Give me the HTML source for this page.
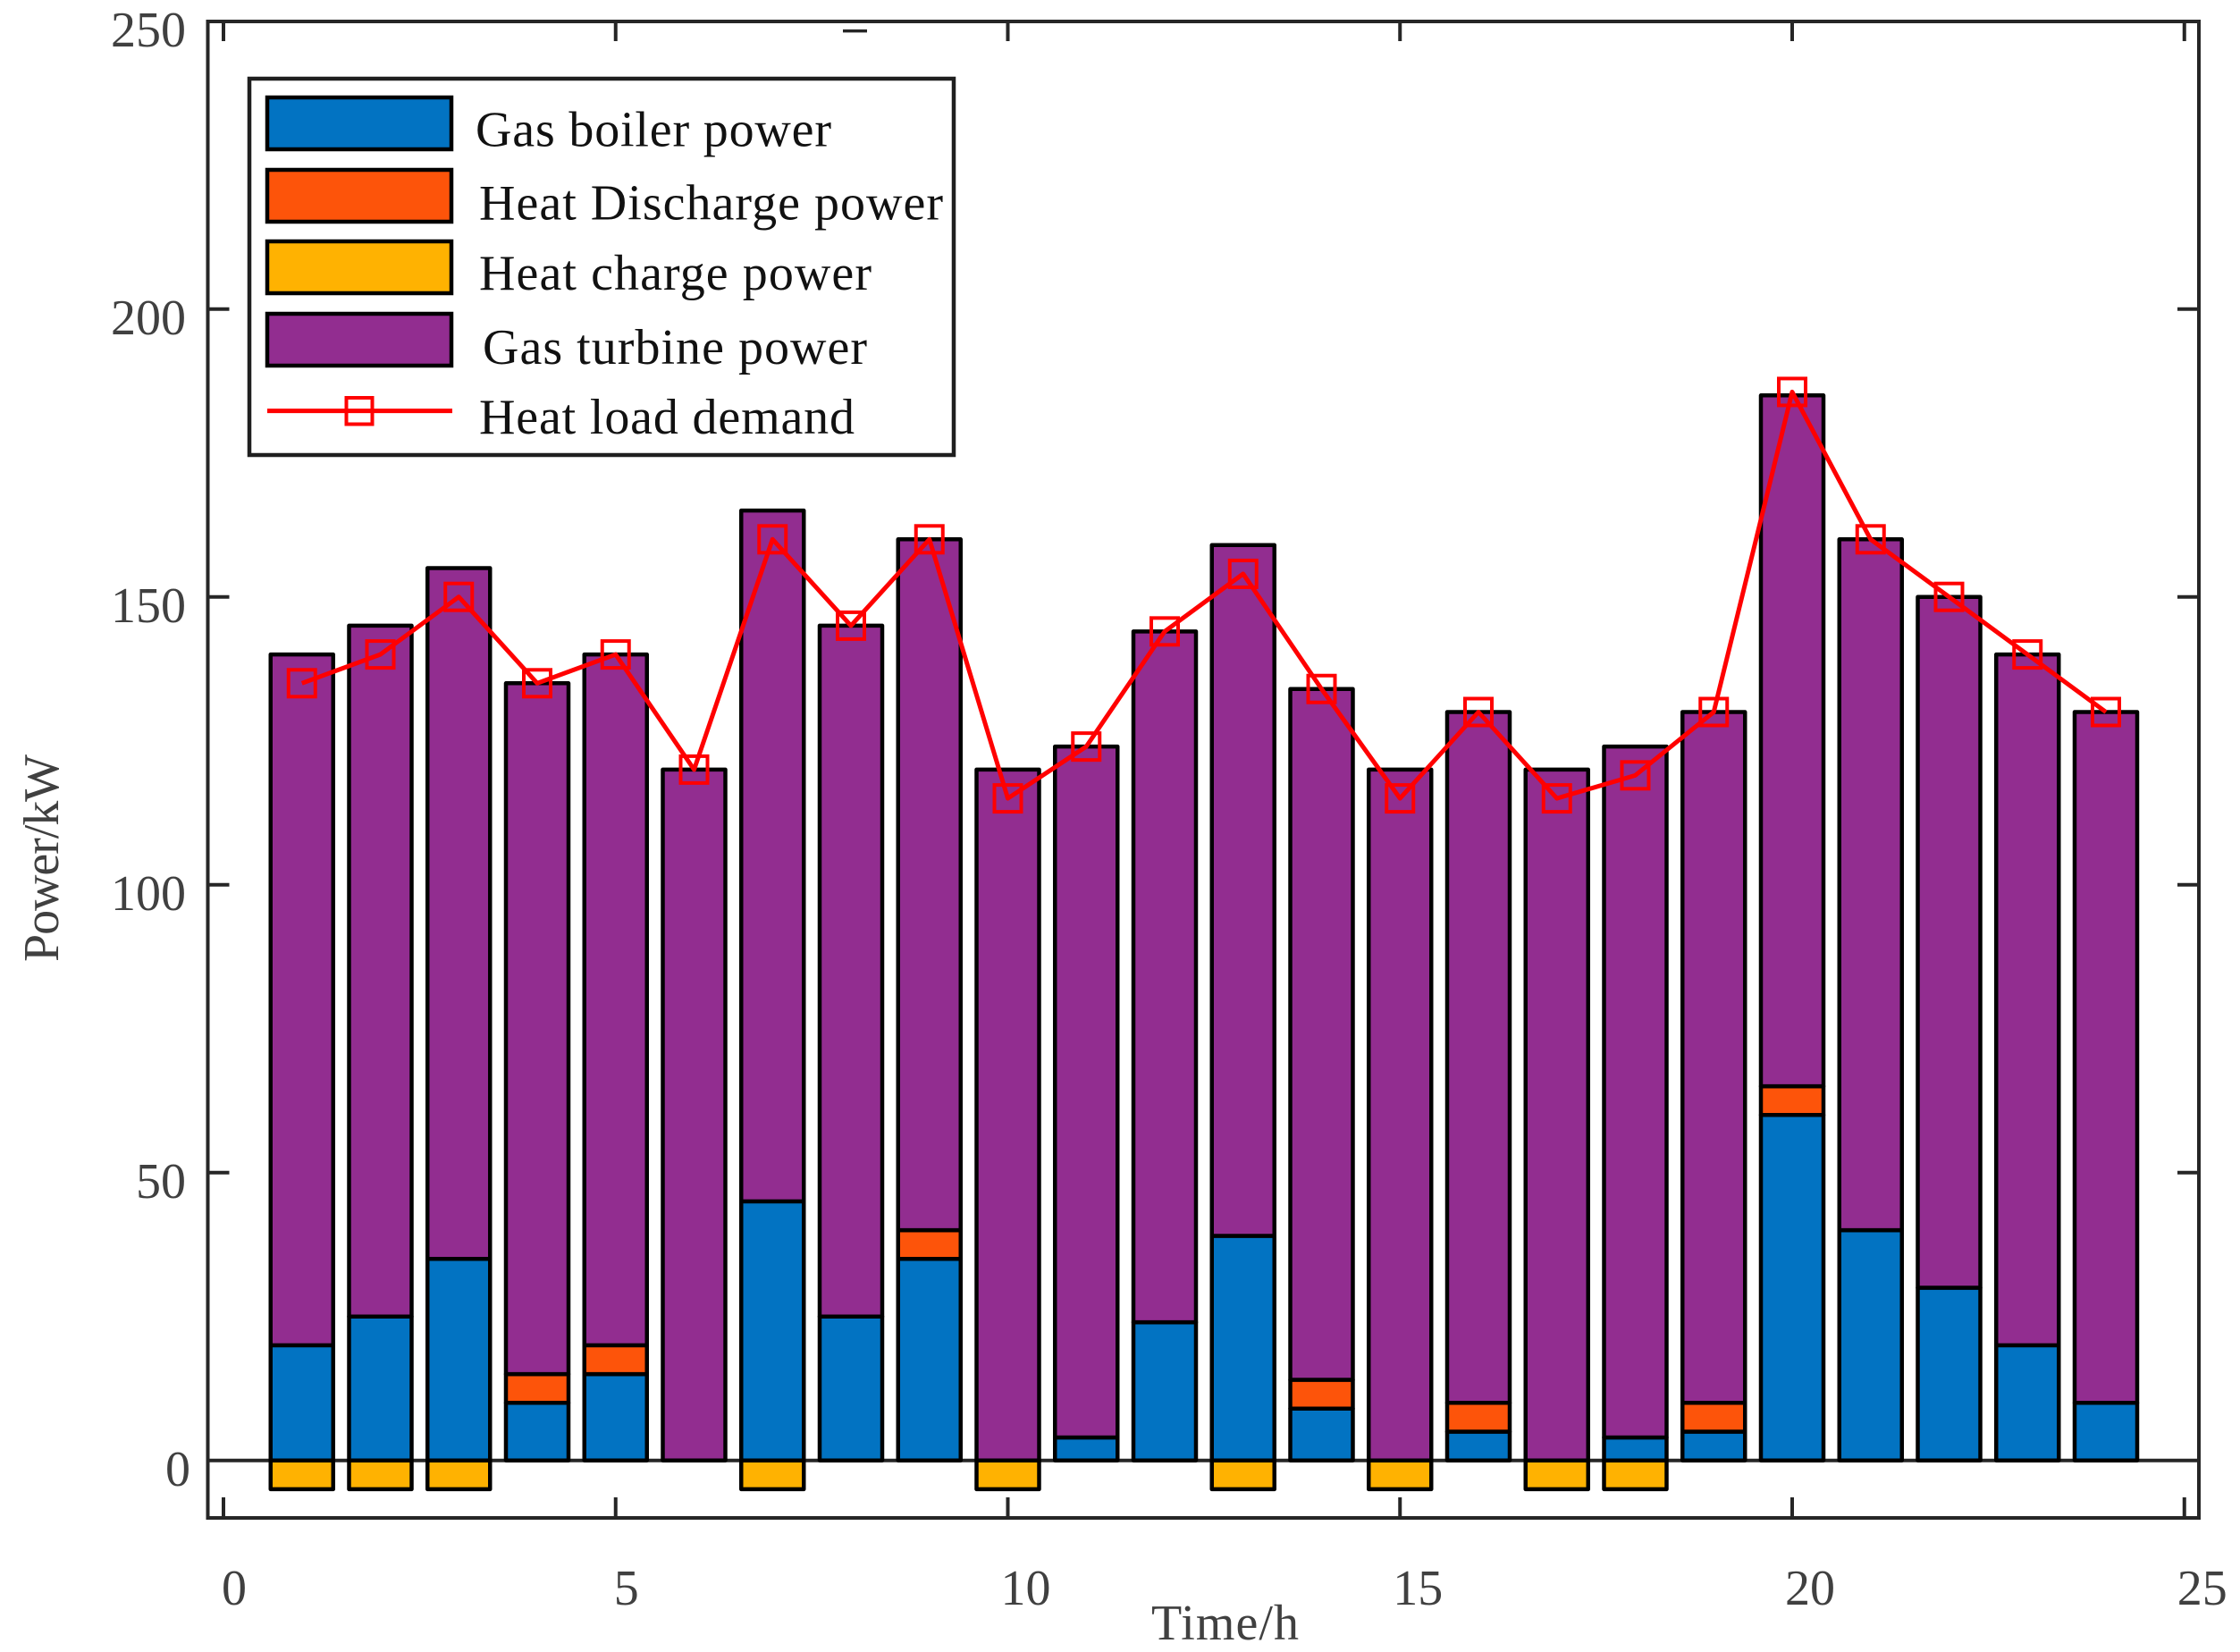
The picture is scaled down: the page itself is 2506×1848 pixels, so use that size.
<!DOCTYPE html>
<html lang="en">
<head>
<meta charset="utf-8">
<title>Heat power balance chart</title>
<style>
  html, body { margin: 0; padding: 0; background: #fff; }
  svg { display: block; }
  text { font-family: "Liberation Serif", serif; font-size: 56px; }
</style>
</head>
<body>
<svg id="chart" xmlns="http://www.w3.org/2000/svg" width="2506" height="1848" viewBox="0 0 2506 1848">
  <rect x="0" y="0" width="2506" height="1848" fill="#ffffff"/>
  <g id="axes-back"></g>
  <g id="bars"></g>
  <g id="line"></g>
  <g id="legend">
    <rect x="279" y="88" width="788" height="421" fill="#ffffff" stroke="#1f1f1f" stroke-width="4.5"/>
    <rect x="299" y="109" width="206" height="58" fill="#0273c2" stroke="#000" stroke-width="4.5"/>
    <rect x="299" y="190" width="206" height="58" fill="#fd540a" stroke="#000" stroke-width="4.5"/>
    <rect x="299" y="270" width="206" height="58" fill="#ffb201" stroke="#000" stroke-width="4.5"/>
    <rect x="299" y="351" width="206" height="58" fill="#922d90" stroke="#000" stroke-width="4.5"/>
    <line x1="299" y1="459.6" x2="506" y2="459.6" stroke="#ff0000" stroke-width="5"/>
    <rect x="387.5" y="445" width="29" height="29.5" fill="none" stroke="#ff0000" stroke-width="4"/>
    <text x="532" y="163.6" fill="#111" textLength="398" lengthAdjust="spacing">Gas boiler power</text>
    <text x="536" y="245.7" fill="#111" textLength="519" lengthAdjust="spacing">Heat Discharge power</text>
    <text x="536" y="324" fill="#111" textLength="439" lengthAdjust="spacing">Heat charge power</text>
    <text x="540" y="407" fill="#111" textLength="430" lengthAdjust="spacing">Gas turbine power</text>
    <text x="536" y="485" fill="#111" textLength="420" lengthAdjust="spacing">Heat load demand</text>
  </g>
  <text x="1288" y="1834" fill="#404040" textLength="165" lengthAdjust="spacing">Time/h</text>
  <text x="0" y="0" transform="translate(65 1076) rotate(-90)" fill="#404040" textLength="232" lengthAdjust="spacing">Power/kW</text>
</svg>
<script>
// Chart data
const hours = [1,2,3,4,5,6,7,8,9,10,11,12,13,14,15,16,17,18,19,20,21,22,23,24];
const gasBoiler = [20,25,35,10,15,0,45,25,35,0,4,24,39,9,0,5,0,4,5,60,40,30,20,10];
const heatDischarge = [0,0,0,5,5,0,0,0,5,0,0,0,0,5,0,5,0,0,5,5,0,0,0,0];
const heatCharge = [-5,-5,-5,0,0,0,-5,0,0,-5,0,0,-5,0,-5,0,-5,-5,0,0,0,0,0,0];
const gasTurbine = [120,120,120,120,120,120,120,120,120,120,120,120,120,120,120,120,120,120,120,120,120,120,120,120];
const heatDemand = [135,140,150,135,140,120,160,145,160,115,124,144,154,134,115,130,115,119,130,185.6,160,150,140,130];
const xTickLabels = [0,5,10,15,20,25];
const yTickLabels = [0,50,100,150,200,250];

const NS = 'http://www.w3.org/2000/svg';
const X0 = 250, XUNIT = 87.75;
const Y0 = 1633.7, YUNIT = 6.44;
const LEFT = 232.5, RIGHT = 2460, TOP = 24, BOTTOM = 1698;
const BAR_WIDTH = 70;

function x(t) { return X0 + t * XUNIT; }
function y(v) { return Y0 - v * YUNIT; }

function make(tag, attrs, parent) {
  const el = document.createElementNS(NS, tag);
  for (const k in attrs) el.setAttribute(k, attrs[k]);
  parent.appendChild(el);
  return el;
}

const axes = document.getElementById('axes-back');
const barsG = document.getElementById('bars');
const lineG = document.getElementById('line');
const axisColor = '#262626';

// Plot frame
const frame = make('rect', {x: LEFT, y: TOP, width: RIGHT - LEFT, height: BOTTOM - TOP, fill: 'none', stroke: axisColor}, axes);
frame.setAttribute('stroke-width', '4');



// Baseline at zero
const zero = make('line', {x1: LEFT, x2: RIGHT, y1: y(0), y2: y(0), stroke: axisColor}, axes);
zero.setAttribute('stroke-width', '4');



// Small stray mark near the top edge
const stray = make('line', {x1: 943, x2: 970, y1: 34.6, y2: 34.6, stroke: axisColor}, axes);
stray.setAttribute('stroke-width', '3.5');



// X ticks and labels
xTickLabels.forEach(function (t) {
  const bottomTick = make('line', {x1: x(t), x2: x(t), y1: BOTTOM, y2: BOTTOM - 23, stroke: axisColor}, axes);
  bottomTick.setAttribute('stroke-width', '4');
  
  
  const topTick = make('line', {x1: x(t), x2: x(t), y1: TOP, y2: TOP + 22, stroke: axisColor}, axes);
  topTick.setAttribute('stroke-width', '4');
  
  
  const label = String(t);
  const lab = make('text', {x: x(t) + (label.length === 1 ? 12 : 20), y: 1795, fill: '#404040', 'text-anchor': 'middle'}, axes);
  lab.textContent = label;
  
  
});

// Y ticks and labels
yTickLabels.forEach(function (v) {
  if (v > 0 && v < 250) {
    const leftTick = make('line', {x1: LEFT, x2: LEFT + 24, y1: y(v), y2: y(v), stroke: axisColor}, axes);
    leftTick.setAttribute('stroke-width', '4');
    
    
    const rightTick = make('line', {x1: RIGHT, x2: RIGHT - 24, y1: y(v), y2: y(v), stroke: axisColor}, axes);
    rightTick.setAttribute('stroke-width', '4');
    
    
  }
  const lab = make('text', {x: v === 0 ? 213 : 208, y: y(v) + 28.5, fill: '#404040', 'text-anchor': 'end'}, axes);
  lab.textContent = String(v);
  
  
});

// Stacked bars
function drawSegment(t, lo, hi, color, name) {
  if (hi === lo) return;
  const r = make('rect', {
    x: x(t) - BAR_WIDTH / 2,
    y: y(Math.max(lo, hi)),
    width: BAR_WIDTH,
    height: Math.abs(y(lo) - y(hi)),
    fill: color,
    stroke: '#000000'
  }, barsG);
  r.setAttribute('stroke-width', '4.5');
  r.setAttribute('stroke-linejoin', 'round');
  
  
}

hours.forEach(function (t, i) {
  const a = gasBoiler[i];
  const b = a + heatDischarge[i];
  const c = b + gasTurbine[i];
  drawSegment(t, 0, a, '#0273c2', 'bar-gas-boiler');
  drawSegment(t, a, b, '#fd540a', 'bar-heat-discharge');
  drawSegment(t, 0, heatCharge[i], '#ffb201', 'bar-heat-charge');
  drawSegment(t, b, c, '#922d90', 'bar-gas-turbine');
});

// Demand line and markers
const pts = hours.map(function (t, i) { return x(t) + ',' + y(heatDemand[i]); }).join(' ');
const poly = make('polyline', {points: pts, fill: 'none', stroke: '#ff0000'}, lineG);
poly.setAttribute('stroke-width', '5');
poly.setAttribute('stroke-linejoin', 'round');



hours.forEach(function (t, i) {
  const m = make('rect', {x: x(t) - 15, y: y(heatDemand[i]) - 15, width: 30, height: 30, fill: 'none', stroke: '#ff0000'}, lineG);
  m.setAttribute('stroke-width', '4');
  
  
});
</script>
</body>
</html>
